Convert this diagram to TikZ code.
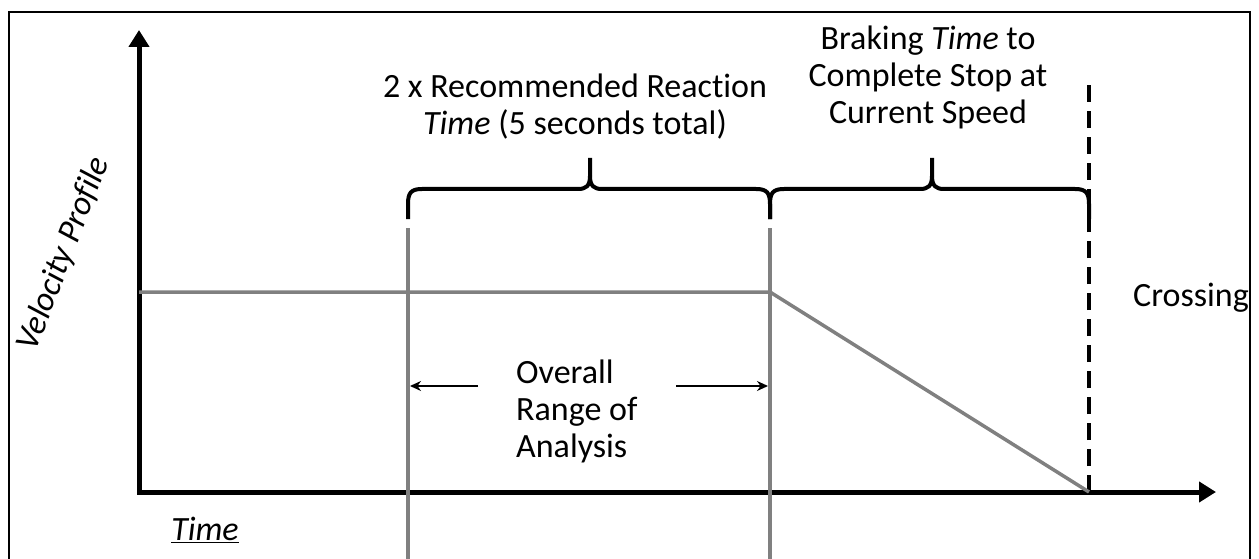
\documentclass[tikz,border=0pt]{standalone}
\usepackage{fontspec}
\setmainfont{Carlito}[Ligatures=NoCommon]
\usetikzlibrary{arrows.meta}
\definecolor{profile}{RGB}{128,128,128}
\begin{document}
\begin{tikzpicture}[x=1pt,y=-1pt,
  axis/.style={line width=5pt,-{Triangle[length=17pt,width=20pt]}},
  guide/.style={draw=profile,line width=3.5pt},
  bracepath/.style={line width=4pt,line join=round},
  rangearrow/.style={line width=1.8pt,-{Stealth[length=11pt,width=10pt]}},
  label/.style={inner sep=0pt,align=center,font=\fontsize{34}{37}\selectfont}]
\useasboundingbox (0,0) rectangle (1259,559);
% outer frame (open at the bottom edge)
\draw[line width=2pt] (9,559) -- (9,12) -- (1250,12) -- (1250,559);

% axes
\coordinate (O) at (139,492);
\coordinate (ytop) at (139,30);
\coordinate (xend) at (1216,492);
\draw[axis] (O) -- (ytop);
\draw[axis] (137,492) -- (xend);

% key instants
\coordinate (A) at (408,228);
\coordinate (B) at (770,228);
\coordinate (Abot) at (408,559);
\coordinate (Bbot) at (770,559);
\coordinate (Ctop) at (1089,77);
\coordinate (Cbot) at (1089,492);

% crossing marker
\draw[line width=4pt,dash pattern=on 17pt off 9pt] (Cbot) -- (Ctop);

% velocity profile and analysis limits
\draw[guide] (139,292) -- (770,292) -- (Cbot);
\draw[guide] (A) -- (Abot);
\draw[guide] (B) -- (Bbot);

% brace over the reaction interval
\draw[bracepath] (408,219) -- (408,204) .. controls (408,193) and (411,189) .. (422,189)
  -- (578,189) .. controls (586,189) and (590,186) .. (590,176) -- (590,158);
\draw[bracepath] (590,176) .. controls (590,186) and (594,189) .. (602,189)
  -- (756,189) .. controls (767,189) and (770,193) .. (770,204) -- (770,219);
% brace over the braking interval
\draw[bracepath] (770,219) -- (770,204) .. controls (770,193) and (773,189) .. (784,189)
  -- (920,189) .. controls (928,189) and (932,186) .. (932,176) -- (932,158);
\draw[bracepath] (932,176) .. controls (932,186) and (936,189) .. (944,189)
  -- (1075,189) .. controls (1086,189) and (1089,193) .. (1089,204) -- (1089,219);

% labels
\node[label] (reaction) at (575,107) {2 x Recommended Reaction\\\textit{Time} (5 seconds total)};
\node[label] (braking) at (928,77) {Braking \textit{Time} to\\Complete Stop at\\Current Speed};
\node[label] (crossing) at (1191,298) {Crossing};
\node[label,rotate=69] (vel) at (64,254) {\textit{Velocity Profile}};
\node[label] (time) at (205,530) {\underline{\textit{Time}}};
\node[label,align=left,anchor=west] (range) at (516,411) {Overall\\Range of\\Analysis};

% range arrows
\coordinate (LA) at (410,386);
\coordinate (RA) at (768,386);
\draw[rangearrow] (478,386) -- (LA);
\draw[rangearrow] (676,386) -- (RA);
\end{tikzpicture}
\end{document}
